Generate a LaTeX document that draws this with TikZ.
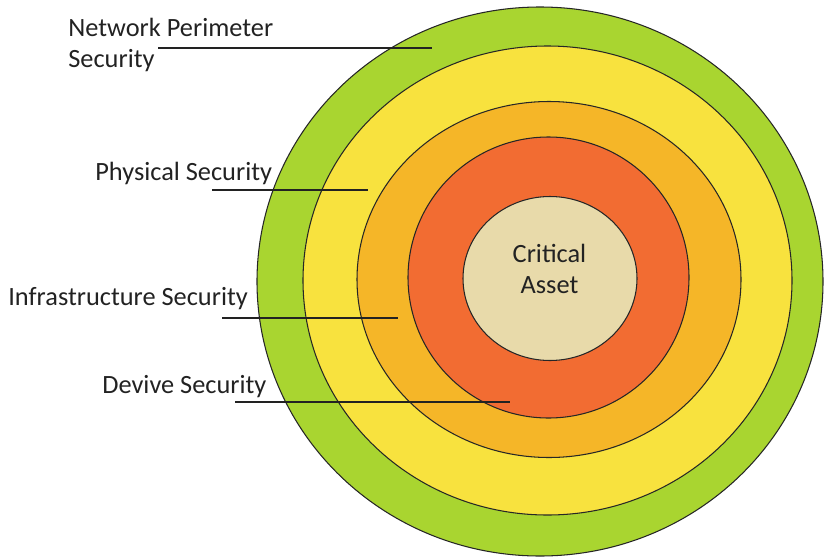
\documentclass[tikz,border=0pt]{standalone}
\usepackage{fontspec}
\setmainfont{Carlito}
\definecolor{ringgreen}{RGB}{169,213,48}
\definecolor{ringyellow}{RGB}{248,226,62}
\definecolor{ringorange}{RGB}{245,182,40}
\definecolor{ringred}{RGB}{242,108,50}
\definecolor{ringcream}{RGB}{232,218,170}
\definecolor{inktext}{RGB}{34,34,34}
\begin{document}
\begin{tikzpicture}[x=0.02cm,y=-0.02cm,
    ring/.style={draw=black!85,line width=0.6pt},
    lead/.style={draw=inktext,line width=0.75pt},
    lbl/.style={inner sep=0pt,text=inktext,font=\fontsize{15}{17.6}\selectfont}]
   \useasboundingbox (0,0) rectangle (825,558);
   % Security Rings, outside in
   \fill[ring,fill=ringgreen]  (540,281.5) ellipse [x radius=283,y radius=274.5];
   \fill[ring,fill=ringyellow] (547.5,280.5) ellipse [x radius=244.5,y radius=234.5];
   \fill[ring,fill=ringorange] (549,279.5) ellipse [x radius=192,y radius=178];
   \fill[ring,fill=ringred]    (548.5,277.5) ellipse [x radius=140.5,y radius=140.5];
   \fill[ring,fill=ringcream]  (550,278.5) ellipse [x radius=87,y radius=82];
   % Asset (base = last line)
   \node[lbl,align=center,anchor=base] (asset) at (549.5,293) {Critical\\Asset};
   % Layer Labels
   \node[lbl,align=left,anchor=base west] (netlbl) at (68,67) {Network Perimeter\\Security};
   \node[lbl,anchor=base west] (phylbl) at (95,180) {Physical Security};
   \node[lbl,anchor=base west] (infralbl) at (8,305) {Infrastructure Security};
   \node[lbl,anchor=base west] (devlbl) at (102,393) {Devive Security};
   % Leader Lines
   \coordinate (netA) at (158,48);    \coordinate (netB) at (432,48);
   \coordinate (phyA) at (212,190);   \coordinate (phyB) at (368,190);
   \coordinate (infraA) at (222,318); \coordinate (infraB) at (398,318);
   \coordinate (devA) at (235,402);   \coordinate (devB) at (510,402);
   \draw[lead] (netA) -- (netB);
   \draw[lead] (phyA) -- (phyB);
   \draw[lead] (infraA) -- (infraB);
   \draw[lead] (devA) -- (devB);
\end{tikzpicture}
\end{document}
